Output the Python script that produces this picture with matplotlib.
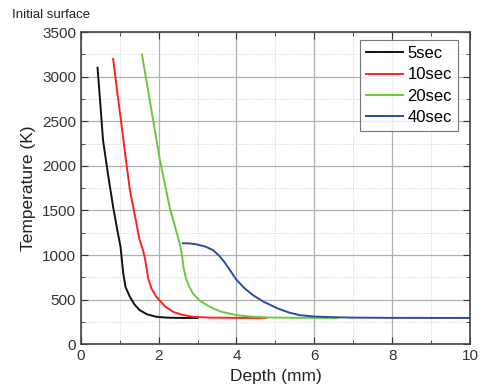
import matplotlib
matplotlib.use("Agg")
import matplotlib.pyplot as plt
from matplotlib.ticker import MultipleLocator

plt.rcParams['font.family'] = ['Liberation Sans', 'DejaVu Sans']

# depth (mm) / temperature (K)
d5 = [0.43, 0.50, 0.57, 0.70, 0.83, 0.95, 1.02, 1.06, 1.09, 1.15, 1.26, 1.38, 1.51, 1.70, 1.94, 2.20, 2.45, 2.70, 3.00]
t5 = [3100, 2700, 2290, 1900, 1540, 1250, 1094, 920, 795, 640, 532, 445, 382, 335, 307, 298, 295, 294, 294]

d10 = [0.83, 0.93, 1.04, 1.15, 1.26, 1.40, 1.51, 1.60, 1.64, 1.69, 1.73, 1.82, 1.94, 2.15, 2.37, 2.60, 2.88, 3.30, 4.00, 4.75]
t10 = [3200, 2850, 2480, 2100, 1730, 1420, 1170, 1050, 981, 850, 738, 620, 532, 430, 363, 330, 307, 298, 295, 294]

d20 = [1.57, 1.77, 2.03, 2.28, 2.54, 2.60, 2.64, 2.70, 2.78, 2.88, 3.05, 3.31, 3.60, 3.99, 4.40, 4.76, 5.50, 6.60]
t20 = [3250, 2740, 2070, 1540, 1130, 1000, 860, 740, 650, 570, 490, 419, 365, 326, 308, 300, 296, 294]

d40 = [2.62, 2.80, 2.97, 3.20, 3.39, 3.55, 3.70, 3.85, 3.99, 4.20, 4.42, 4.70, 5.06, 5.35, 5.62, 6.00, 6.47, 7.00, 8.00, 10.0]
t40 = [1132, 1130, 1120, 1095, 1057, 995, 915, 820, 727, 630, 551, 475, 401, 355, 326, 310, 303, 298, 295, 294]

labels = ["5sec", "10sec", "20sec", "40sec"]
colors = ["#111111", "#ff2020", "#6cc83a", "#2c4aa6"]

fig = plt.figure(figsize=(4.84, 3.92), dpi=100)
ax = fig.add_axes([0.167, 0.122, 0.804, 0.796])

for d, t, lab, c in zip([d5, d10, d20, d40], [t5, t10, t20, t40], labels, colors):
    ax.plot(d, t, color=c, lw=1.4, label=lab)

ax.set_xlim(0, 10)
ax.set_ylim(0, 3500)
ax.xaxis.set_major_locator(MultipleLocator(2))
ax.xaxis.set_minor_locator(MultipleLocator(1))
ax.yaxis.set_major_locator(MultipleLocator(500))
ax.yaxis.set_minor_locator(MultipleLocator(250))

ax.grid(which="major", color="#b0b0b0", lw=0.9)
ax.grid(which="minor", color="#c8c8c8", lw=0.6, ls=":")
ax.set_axisbelow(True)

ax.tick_params(which="both", direction="in", top=True, right=True, labelsize=11, colors="#333333")
ax.tick_params(which="major", length=5)
ax.tick_params(which="minor", length=3)
for s in ax.spines.values():
    s.set_color("#444444")
    s.set_linewidth(1.2)

ax.set_xlabel("Depth (mm)", fontsize=12.5, color="#222222")
ax.set_ylabel("Temperature (K)", fontsize=12.5, color="#222222")
fig.text(0.025, 0.955, "Initial surface", fontsize=9.5, color="#222222")

leg = ax.legend(loc="upper right", bbox_to_anchor=(0.969, 0.974), borderaxespad=0,
                fontsize=12, frameon=True, fancybox=False, edgecolor="#555555",
                handlelength=2.2, labelspacing=0.38, handletextpad=0.3, borderpad=0.35)
leg.get_frame().set_linewidth(0.8)

fig.savefig("out.png", dpi=100)
